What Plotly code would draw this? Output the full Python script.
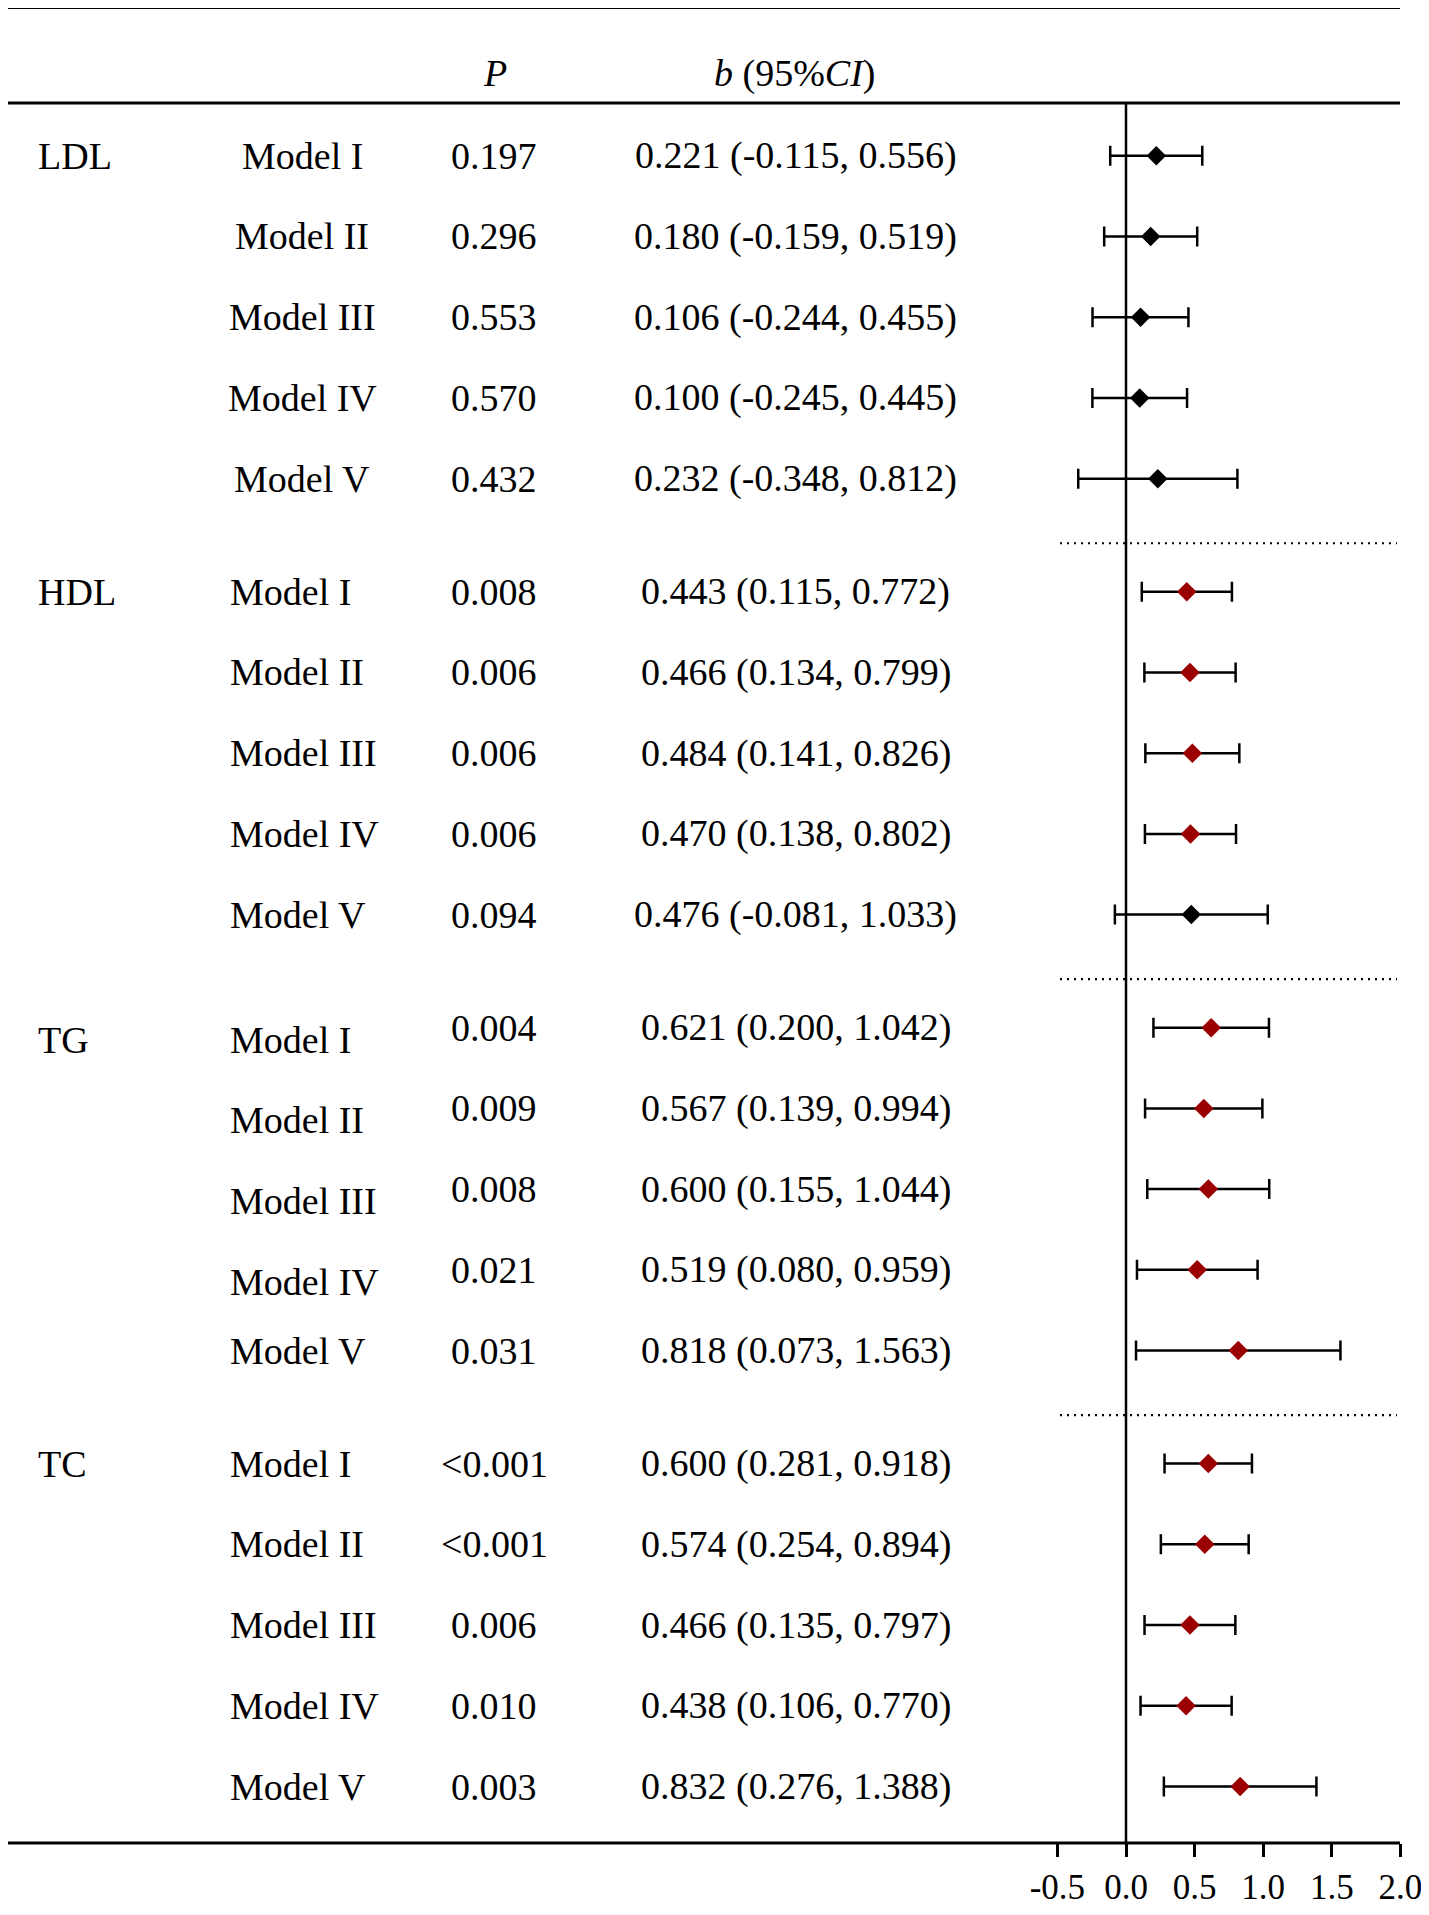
import plotly.graph_objects as go

groups = ["LDL", "HDL", "TG", "TC"]
models = ["Model I", "Model II", "Model III", "Model IV", "Model V"]

p_text = [
    "0.197", "0.296", "0.553", "0.570", "0.432",
    "0.008", "0.006", "0.006", "0.006", "0.094",
    "0.004", "0.009", "0.008", "0.021", "0.031",
    "<0.001", "<0.001", "0.006", "0.010", "0.003",
]
b = [
    0.221, 0.180, 0.106, 0.100, 0.232,
    0.443, 0.466, 0.484, 0.470, 0.476,
    0.621, 0.567, 0.600, 0.519, 0.818,
    0.600, 0.574, 0.466, 0.438, 0.832,
]
ci_low = [
    -0.115, -0.159, -0.244, -0.245, -0.348,
    0.115, 0.134, 0.141, 0.138, -0.081,
    0.200, 0.139, 0.155, 0.080, 0.073,
    0.281, 0.254, 0.135, 0.106, 0.276,
]
ci_high = [
    0.556, 0.519, 0.455, 0.445, 0.812,
    0.772, 0.799, 0.826, 0.802, 1.033,
    1.042, 0.994, 1.044, 0.959, 1.563,
    0.918, 0.894, 0.797, 0.770, 1.388,
]
x_ticks = [-0.5, 0.0, 0.5, 1.0, 1.5, 2.0]

# page has an 8px body margin, so the figure is drawn 8px in from the corner
PAD = 8
W, H = 1429 - PAD, 1915 - 2 * PAD
TOP, BOTTOM = 103 - PAD, 1853 - PAD          # plot area in figure pixels
ZERO_PX, UNIT_PX = 1126 - PAD, 137.2         # forest x scale
ROW_PX, GROUP_GAP = 81.2, 5.4
FIRST_ROW_PX = 156 - PAD
FONT = "Liberation Serif"
FS = 38
RED = "#9b0000"

n = len(groups) * len(models)
row_y = [(k // 5) * GROUP_GAP + (k % 5) for k in range(n)]
y_top = (TOP - FIRST_ROW_PX) / ROW_PX
y_bot = (BOTTOM - FIRST_ROW_PX) / ROW_PX


def px_x(px):
    return (px - PAD) / W


def px_y(px):
    return (BOTTOM - (px - PAD)) / (BOTTOM - TOP)


colors = [RED if lo > 0 else "black" for lo in ci_low]

fig = go.Figure()
fig.add_trace(go.Scatter(
    x=b, y=row_y, mode="markers",
    marker=dict(symbol="diamond", size=15, color=colors, line=dict(width=0)),
    error_x=dict(type="data", symmetric=False,
                 array=[h - v for h, v in zip(ci_high, b)],
                 arrayminus=[v - l for v, l in zip(b, ci_low)],
                 color="black", thickness=2.5, width=10),
    showlegend=False, hoverinfo="skip",
))

ann = []


def txt(text, x_px, y, xanchor="center", yshift=0, yref="y"):
    ann.append(dict(text=text, x=px_x(x_px), y=y, xref="paper", yref=yref,
                    xanchor=xanchor, yanchor="middle", showarrow=False,
                    yshift=yshift, font=dict(family=FONT, size=FS, color="black")))


# header
txt("<i>P</i>", 495, px_y(73), yref="paper")
txt("<i>b</i> (95%<i>CI</i>)", 794, px_y(73), yref="paper")

for k in range(n):
    g, i = k // 5, k % 5
    y = row_y[k]
    shift = -12 if (groups[g] == "TG" and i < 4) else 0
    if i == 0:
        txt(groups[g], 36, y, xanchor="left", yshift=shift)
    if g == 0:
        txt(models[i], 302, y)
    else:
        txt(models[i], 228, y, xanchor="left", yshift=shift)
    txt(p_text[k], 494, y)
    txt(f"{b[k]:.3f} ({ci_low[k]:.3f}, {ci_high[k]:.3f})", 796, y)

shapes = [
    dict(type="line", xref="paper", yref="paper", x0=px_x(6), x1=px_x(1400),
         y0=px_y(7), y1=px_y(7), line=dict(color="black", width=3)),
    dict(type="line", xref="paper", yref="paper", x0=px_x(6), x1=px_x(1400),
         y0=1, y1=1, line=dict(color="black", width=3)),
    dict(type="line", xref="paper", yref="paper", x0=px_x(6), x1=px_x(1400),
         y0=0, y1=0, line=dict(color="black", width=3)),
    dict(type="line", xref="x", yref="paper", x0=0, x1=0, y0=0, y1=1,
         line=dict(color="black", width=2.5), layer="below"),
]
for g in range(1, len(groups)):
    yd = g * GROUP_GAP - 0.6
    shapes.append(dict(type="line", xref="paper", yref="y", x0=px_x(1060), x1=px_x(1397),
                       y0=yd, y1=yd, line=dict(color="black", width=2.2, dash="2px,5px")))

fig.update_layout(
    width=W, height=H,
    margin=dict(l=0, r=0, t=TOP, b=H - BOTTOM),
    paper_bgcolor="white", plot_bgcolor="white",
    annotations=ann, shapes=shapes,
    xaxis=dict(range=[-ZERO_PX / UNIT_PX, (W - ZERO_PX) / UNIT_PX],
               tickvals=x_ticks, ticktext=[f"{v:.1f}" for v in x_ticks],
               ticks="outside", ticklen=13, tickwidth=2.5, tickcolor="black",
               showline=False, showgrid=False, zeroline=False,
               tickfont=dict(family=FONT, size=35, color="black")),
    yaxis=dict(range=[y_bot, y_top], visible=False, showgrid=False, zeroline=False),
)

fig.write_html("out.html")
